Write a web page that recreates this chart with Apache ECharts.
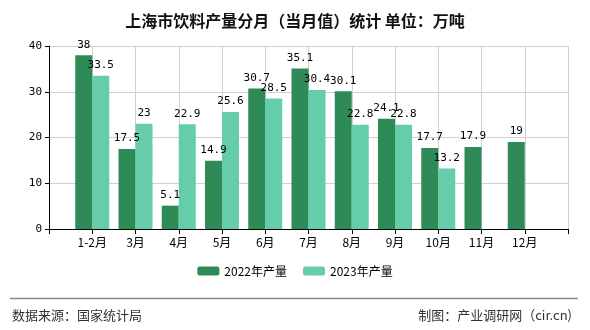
<!DOCTYPE html>
<html>
<head>
<meta charset="utf-8">
<script src="https://cdn.jsdelivr.net/npm/echarts@6/dist/echarts.min.js"></script>
<style>
html,body{margin:0;padding:0;background:#fff;}
#c{width:590px;height:330px;}
</style>
</head>
<body>
<div id="c"></div>
<script>
var months = ['1-2月','3月','4月','5月','6月','7月','8月','9月','10月','11月','12月'];
var values2022 = [38, 17.5, 5.1, 14.9, 30.7, 35.1, 30.1, 24.1, 17.7, 17.9, 19];
var values2023 = [33.5, 23, 22.9, 25.6, 28.5, 30.4, 22.8, 22.8, 13.2, null, null];
var seriesNames = ['2022年产量', '2023年产量'];
var yMin = 0, yMax = 40, yStep = 10;

function pad(arr) {
  var out = ['-'];
  arr.forEach(function (v) { out.push(v == null ? '-' : v); });
  out.push('-');
  return out;
}
var categories = [''].concat(months).concat(['']);

var numFont = 'DejaVu Sans Mono';
var cjkFont = 'Noto Sans CJK SC';

var chart = echarts.init(document.getElementById('c'), null, {renderer: 'canvas'});
chart.setOption({
  animation: false,
  backgroundColor: '#fff',
  title: {
    text: '上海市饮料产量分月（当月值）统计 单位：万吨',
    left: 'center',
    top: 8,
    textStyle: {fontFamily: cjkFont, fontSize: 16, fontWeight: 'bold', color: '#111'}
  },
  legend: {
    bottom: 48,
    left: 'center',
    itemWidth: 22,
    itemHeight: 9,
    itemGap: 16,
    textStyle: {fontFamily: cjkFont, fontSize: 12, color: '#000'},
    data: seriesNames
  },
  grid: {left: 49, right: 22, top: 46, bottom: 101, containLabel: false},
  xAxis: {
    type: 'category',
    data: categories,
    boundaryGap: false,
    axisLine: {lineStyle: {color: '#000', width: 1}},
    axisTick: {show: true, length: 5, lineStyle: {color: '#000'}, alignWithLabel: true},
    axisLabel: {fontFamily: cjkFont, fontSize: 12, color: '#000', margin: 7, interval: 0},
    splitLine: {show: true, lineStyle: {color: '#d0d0d0'}}
  },
  yAxis: {
    type: 'value',
    min: yMin, max: yMax, interval: yStep,
    axisLine: {show: true, lineStyle: {color: '#000'}},
    axisTick: {show: true, length: 4, lineStyle: {color: '#000'}},
    axisLabel: {fontFamily: numFont, fontSize: 11, color: '#000', margin: 7},
    splitLine: {show: true, lineStyle: {color: '#d0d0d0'}}
  },
  series: [
    {
      name: seriesNames[0], type: 'bar', data: pad(values2022),
      barWidth: 17, barGap: '0%',
      itemStyle: {color: '#2E8B57'},
      label: {show: true, position: 'top', distance: 5, fontFamily: numFont, fontSize: 11, color: '#000'}
    },
    {
      name: seriesNames[1], type: 'bar', data: pad(values2023),
      barWidth: 17, barGap: '0%',
      itemStyle: {color: '#66CDAA'},
      label: {show: true, position: 'top', distance: 5, fontFamily: numFont, fontSize: 11, color: '#000'}
    }
  ],
  graphic: [
    {type: 'line', shape: {x1: 10, y1: 298.5, x2: 578, y2: 298.5}, style: {stroke: '#888', lineWidth: 1.5}},
    {type: 'text', left: 12, top: 309, style: {text: '数据来源：国家统计局', fontFamily: cjkFont, fontSize: 13, fill: '#333'}},
    {type: 'text', right: 18, top: 309, style: {text: '制图：产业调研网（cir.cn)', fontFamily: cjkFont, fontSize: 13, fill: '#333'}}
  ]
});
</script>
</body>
</html>
